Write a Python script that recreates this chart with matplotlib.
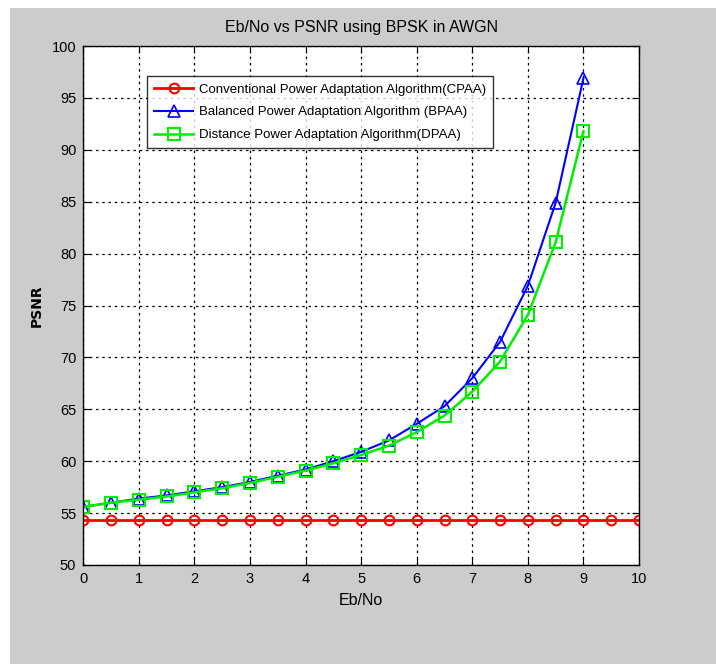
import matplotlib
matplotlib.use("Agg")
import matplotlib.pyplot as plt
from matplotlib.patches import Rectangle

plt.rcParams['font.family'] = ['Liberation Sans', 'DejaVu Sans']

ebno_cpaa = [0, 0.5, 1, 1.5, 2, 2.5, 3, 3.5, 4, 4.5, 5, 5.5, 6, 6.5, 7, 7.5, 8, 8.5, 9, 9.5, 10]
psnr_cpaa = [54.3] * 21

ebno_adapt = [0, 0.5, 1, 1.5, 2, 2.5, 3, 3.5, 4, 4.5, 5, 5.5, 6, 6.5, 7, 7.5, 8, 8.5, 9]
psnr_bpaa = [55.6, 56.0, 56.4, 56.7, 57.1, 57.5, 58.0, 58.6, 59.2, 60.0, 60.9, 62.0, 63.6, 65.3, 68.0, 71.5, 76.9, 84.9, 96.9]
psnr_dpaa = [55.6, 56.0, 56.3, 56.6, 57.0, 57.4, 57.9, 58.5, 59.1, 59.8, 60.6, 61.5, 62.8, 64.4, 66.7, 69.6, 74.1, 81.1, 91.8]

labels = ['Conventional Power Adaptation Algorithm(CPAA)',
          'Balanced Power Adaptation Algorithm (BPAA)',
          'Distance Power Adaptation Algorithm(DPAA)']

fig = plt.figure(figsize=(7.16, 6.64), dpi=100, facecolor='white')
fig.patches.append(Rectangle((10/716, 0), 1 - 10/716, (664-8)/664, transform=fig.transFigure,
                             facecolor='#cccccc', edgecolor='none', zorder=-10))
ax = fig.add_axes([0.1163, 0.1491, 0.7762, 0.7816])
ax.set_facecolor('white')

ax.plot(ebno_cpaa, psnr_cpaa, '-o', color='#ff0000', lw=2, ms=7, mfc='none', mew=1.5, label=labels[0])
ax.plot(ebno_adapt, psnr_bpaa, '-^', color='#0000ff', lw=1.5, ms=9, mfc='none', mew=1.2, label=labels[1])
ax.plot(ebno_adapt, psnr_dpaa, '-s', color='#00ee00', lw=1.8, ms=8, mfc='none', mew=1.5, label=labels[2])

ax.set_xlim(0, 10)
ax.set_ylim(50, 100)
ax.set_xticks(range(0, 11))
ax.set_yticks(range(50, 101, 5))
ax.grid(True, linestyle=(0, (2, 3)), color='black', lw=0.9)
ax.tick_params(direction='in', top=True, right=True, labelsize=10.5, length=5, color='black', pad=5)
for s in ax.spines.values():
    s.set_linewidth(1.0)

ax.set_title('Eb/No vs PSNR using BPSK in AWGN', fontsize=11.5, pad=10)
ax.set_xlabel('Eb/No', fontsize=11.5, labelpad=5)
ax.set_ylabel('PSNR', fontsize=10, fontweight='bold', family=['DejaVu Sans'], labelpad=6)

leg = ax.legend(loc='upper left', bbox_to_anchor=(0.114, 0.942), fontsize=9.5, frameon=True,
                fancybox=False, edgecolor='black', handlelength=3.0, borderpad=0.55,
                labelspacing=0.8, handletextpad=0.4, borderaxespad=0)
leg.get_frame().set_linewidth(1.0)

fig.savefig('out.png', dpi=100, facecolor=fig.get_facecolor())
